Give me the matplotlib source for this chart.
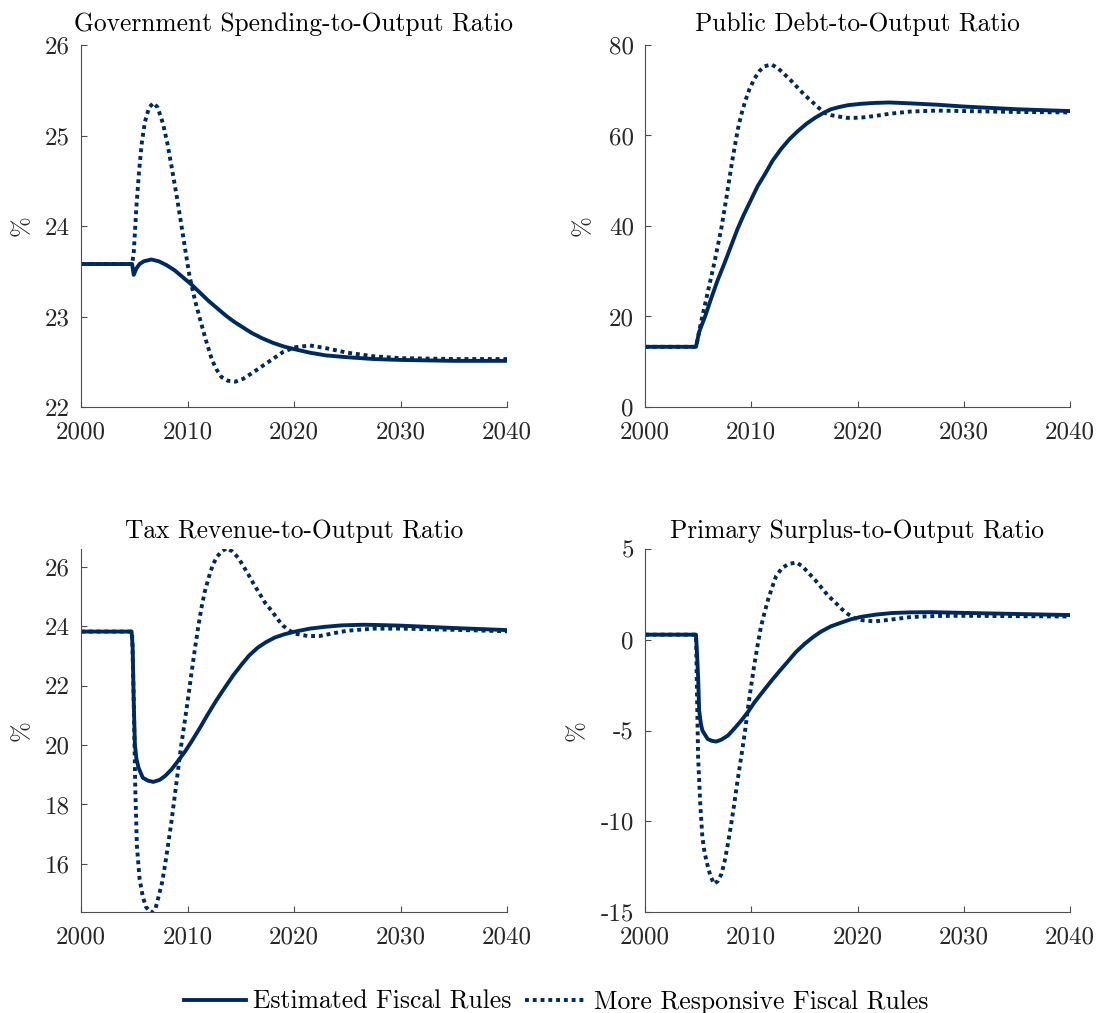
import matplotlib
matplotlib.use("Agg")
import matplotlib.pyplot as plt
from matplotlib.lines import Line2D

plt.rcParams['font.family'] = ['cmr10', 'DejaVu Serif']
plt.rcParams['axes.unicode_minus'] = False

NAVY = '#002a5e'

titles = ["Government Spending-to-Output Ratio", "Public Debt-to-Output Ratio",
          "Tax Revenue-to-Output Ratio", "Primary Surplus-to-Output Ratio"]
legend_labels = ["Estimated Fiscal Rules", "More Responsive Fiscal Rules"]
xticks = [2000, 2010, 2020, 2030, 2040]

# Government spending-to-output
g_est_x = [2000, 2004.8, 2004.95, 2005.2, 2005.5, 2005.9, 2006.6, 2007.3, 2008.0, 2008.8, 2009.6,
           2010.4, 2011.2, 2012.0, 2012.8, 2013.6, 2014.4, 2015.2, 2016.0, 2017.0, 2018.0, 2019.0,
           2020.0, 2021.5, 2023, 2025, 2027.5, 2030, 2035, 2040]
g_est = [23.58, 23.58, 23.46, 23.53, 23.58, 23.61, 23.63, 23.61, 23.57, 23.51, 23.43,
         23.35, 23.26, 23.17, 23.09, 23.01, 22.94, 22.88, 22.82, 22.76, 22.71, 22.67,
         22.64, 22.60, 22.57, 22.55, 22.53, 22.52, 22.51, 22.51]
g_resp_x = [2000, 2004.8, 2004.95, 2005.2, 2005.45, 2005.7, 2006.0, 2006.4, 2006.8, 2007.2, 2007.7,
            2008.1, 2008.5, 2009.0, 2009.4, 2009.8, 2010.2, 2010.7, 2011.2, 2011.7, 2012.3, 2012.7,
            2013.2, 2013.8, 2014.5, 2015.2, 2016.0, 2017.0, 2018.0, 2019.0, 2020.1, 2021.5, 2023,
            2025, 2027.5, 2030, 2035, 2040]
g_resp = [23.58, 23.58, 23.70, 24.21, 24.60, 24.91, 25.15, 25.31, 25.36, 25.31, 25.13,
          24.92, 24.66, 24.32, 24.03, 23.73, 23.44, 23.18, 22.96, 22.75, 22.52, 22.42,
          22.33, 22.29, 22.28, 22.31, 22.37, 22.45, 22.53, 22.61, 22.66, 22.68, 22.65,
          22.60, 22.56, 22.54, 22.53, 22.53]

# Public debt-to-output
b_est_x = [2000, 2004.8, 2005.1, 2005.7, 2006.2, 2006.8, 2007.5, 2008.1, 2008.7, 2009.3, 2010.0,
           2010.6, 2011.3, 2012.0, 2012.8, 2013.6, 2014.4, 2015.2, 2016.0, 2016.8, 2017.5, 2018.3,
           2019.1, 2020.3, 2021.6, 2023, 2025, 2027.5, 2030, 2032.5, 2035, 2037.5, 2040]
b_est = [13.3, 13.3, 16.6, 20.3, 23.8, 27.8, 31.9, 35.6, 39.3, 42.5, 45.9,
         48.8, 51.5, 54.4, 57.0, 59.2, 61.0, 62.6, 63.9, 65.0, 65.8, 66.3,
         66.7, 67.0, 67.2, 67.3, 67.1, 66.8, 66.4, 66.1, 65.8, 65.6, 65.4]
b_resp_x = [2000, 2004.8, 2005.0, 2005.28, 2005.91, 2006.54, 2007.17, 2007.64, 2008.18, 2008.74,
            2009.06, 2009.43, 2009.84, 2010.31, 2010.79, 2011.26, 2011.89, 2012.5, 2013.14, 2013.8,
            2014.4, 2015.0, 2015.66, 2016.3, 2016.9, 2017.5, 2018.2, 2019.0, 2019.75, 2020.5,
            2021.6, 2023, 2025, 2027.5, 2030, 2035, 2040]
b_resp = [13.3, 13.3, 15.6, 18.8, 25.4, 32.0, 39.3, 45.9, 54.0, 61.4,
          64.6, 67.6, 70.3, 72.6, 74.3, 75.3, 75.7, 74.9, 73.5, 72.0,
          70.5, 69.0, 67.6, 66.2, 65.0, 64.5, 64.2, 63.9, 63.9, 64.0,
          64.3, 64.8, 65.3, 65.5, 65.4, 65.2, 65.1]

# Tax revenue-to-output
t_est_x = [2000, 2004.75, 2004.85, 2004.95, 2005.06, 2005.2, 2005.4, 2005.8, 2006.3, 2006.8, 2007.4,
           2007.9, 2008.5, 2009.1, 2009.8, 2010.4, 2011.2, 2011.9, 2012.7, 2013.5, 2014.3, 2015.1,
           2015.8, 2016.6, 2017.4, 2018.2, 2019.1, 2020.1, 2021.5, 2022.9, 2024.5, 2026.5, 2028,
           2030, 2035, 2040]
t_est = [23.82, 23.82, 23.3, 21.5, 20.02, 19.55, 19.24, 18.9, 18.8, 18.76, 18.83,
         18.96, 19.18, 19.46, 19.8, 20.13, 20.6, 21.03, 21.5, 21.93, 22.35, 22.72,
         23.02, 23.28, 23.47, 23.62, 23.73, 23.82, 23.92, 23.98, 24.03, 24.05, 24.04,
         24.02, 23.94, 23.87]
t_resp_x = [2000, 2004.8, 2004.95, 2005.1, 2005.25, 2005.5, 2005.8, 2006.1, 2006.6, 2007.0, 2007.25,
            2007.6, 2007.9, 2008.2, 2008.5, 2008.8, 2009.1, 2009.4, 2009.75, 2010.1, 2010.4, 2010.7,
            2011.0, 2011.3, 2011.6, 2012.0, 2012.4, 2012.8, 2013.2, 2013.7, 2014.2, 2014.75, 2015.2,
            2015.7, 2016.25, 2016.8, 2017.3, 2017.9, 2018.5, 2019.0, 2019.6, 2020.1, 2021.3, 2022.4,
            2023.5, 2025, 2027.5, 2030, 2035, 2040]
t_resp = [23.82, 23.82, 21.5, 18.5, 16.6, 15.5, 14.9, 14.55, 14.35, 14.5, 14.85,
          15.35, 15.98, 16.7, 17.44, 18.28, 19.12, 19.97, 20.81, 21.7, 22.49, 23.25,
          23.96, 24.6, 25.13, 25.65, 26.09, 26.35, 26.52, 26.63, 26.52, 26.31, 26.05,
          25.75, 25.4, 25.08, 24.78, 24.52, 24.22, 24.01, 23.85, 23.75, 23.67, 23.67,
          23.75, 23.85, 23.92, 23.92, 23.88, 23.83]

# Primary surplus-to-output
p_est_x = [2000, 2004.8, 2004.9, 2005.0, 2005.1, 2005.25, 2005.4, 2005.9, 2006.3, 2006.7, 2007.2,
           2007.8, 2008.4, 2009.05, 2009.7, 2010.3, 2011.1, 2011.9, 2012.7, 2013.5, 2014.2, 2015.0,
           2015.8, 2016.6, 2017.5, 2018.5, 2019.4, 2020.4, 2021.8, 2023.2, 2025, 2027, 2030,
           2035, 2040]
p_est = [0.28, 0.28, -0.8, -2.07, -3.9, -4.6, -5.0, -5.47, -5.57, -5.61, -5.5,
         -5.28, -4.9, -4.46, -3.97, -3.45, -2.85, -2.26, -1.7, -1.16, -0.68, -0.24,
         0.14, 0.46, 0.74, 0.95, 1.13, 1.27, 1.39, 1.47, 1.51, 1.52, 1.48,
         1.42, 1.36]
p_resp_x = [2000, 2004.8, 2004.9, 2005.0, 2005.2, 2005.4, 2005.6, 2005.85, 2006.15, 2006.5, 2006.85,
            2007.2, 2007.5, 2007.8, 2008.1, 2008.4, 2008.7, 2009.05, 2009.4, 2009.7, 2010.0, 2010.3,
            2010.6, 2010.9, 2011.25, 2011.6, 2012.0, 2012.35, 2012.9, 2013.5, 2014.25, 2014.8,
            2015.35, 2016.0, 2016.6, 2017.2, 2017.9, 2018.5, 2019.1, 2019.7, 2020.4, 2021.6, 2023,
            2025, 2027.5, 2030, 2035, 2040]
p_resp = [0.28, 0.28, -3.17, -6.48, -9.05, -10.88, -11.7, -12.35, -13.0, -13.45, -13.3,
          -12.9, -12.2, -11.25, -10.2, -9.05, -7.8, -6.48, -5.1, -3.72, -2.5, -1.34,
          -0.3, 0.68, 1.5, 2.24, 2.95, 3.52, 3.95, 4.17, 4.26, 4.05,
          3.71, 3.3, 2.88, 2.45, 2.06, 1.7, 1.41, 1.2, 1.08, 1.01, 1.1,
          1.25, 1.31, 1.32, 1.30, 1.28]

yticks_list = [[22, 23, 24, 25, 26], [0, 20, 40, 60, 80],
               [16, 18, 20, 22, 24, 26], [-15, -10, -5, 0, 5]]
ylims = [(22, 26), (0, 80), (14.38, 26.6), (-15, 5)]

panels = [(g_est_x, g_est, g_resp_x, g_resp), (b_est_x, b_est, b_resp_x, b_resp),
          (t_est_x, t_est, t_resp_x, t_resp), (p_est_x, p_est, p_resp_x, p_resp)]

W, H = 1097, 1013
fig = plt.figure(figsize=(W / 100, H / 100), dpi=100)

# axes boxes in pixels: left, top, right, bottom
boxes = [(81, 45, 507, 407), (645, 45, 1070, 407), (81, 549, 507, 912), (645, 549, 1070, 912)]
ylab_x = [-0.113, -0.12, -0.113, -0.134]
title_pads = [10, 10, 8, 8]

FS = 18
GRAY = '#262626'
LW = 2.8
DOT = (0, (1, 1.0))
for i, (box, (ex, ey, rx, ry)) in enumerate(zip(boxes, panels)):
    l, t, r, b = box
    ax = fig.add_axes([l / W, 1 - b / H, (r - l) / W, (b - t) / H])
    ax.plot(ex, ey, color=NAVY, lw=LW, solid_joinstyle='round')
    ax.plot(rx, ry, color=NAVY, lw=LW, linestyle=DOT)
    ax.set_xlim(2000, 2040)
    ax.set_ylim(*ylims[i])
    ax.set_xticks(xticks)
    ax.set_xticklabels([str(v) for v in xticks])
    ax.set_yticks(yticks_list[i])
    ax.set_yticklabels([str(v) for v in yticks_list[i]])
    for s in ['top', 'right']:
        ax.spines[s].set_visible(False)
    for s in ['left', 'bottom']:
        ax.spines[s].set_color('#4d4d4d')
        ax.spines[s].set_linewidth(0.8)
    ax.tick_params(direction='in', length=4, width=0.8, color='#4d4d4d',
                   labelsize=FS, labelcolor=GRAY)
    ax.tick_params(axis='x', pad=10)
    ax.tick_params(axis='y', pad=8)
    ax.set_title(titles[i], fontsize=18.3, color='black', pad=title_pads[i])
    ax.set_ylabel('%', fontsize=FS, color=GRAY)
    ax.yaxis.set_label_coords(ylab_x[i], 0.5)

handles = [Line2D([], [], color=NAVY, lw=LW),
           Line2D([], [], color=NAVY, lw=LW, linestyle=DOT)]
fig.legend(handles, legend_labels, loc='center', bbox_to_anchor=(0.507, 0.011), ncol=2,
           frameon=False, fontsize=18.5, handlelength=2.4, handletextpad=0.3, columnspacing=0.5)

fig.savefig('out.png', dpi=100)
